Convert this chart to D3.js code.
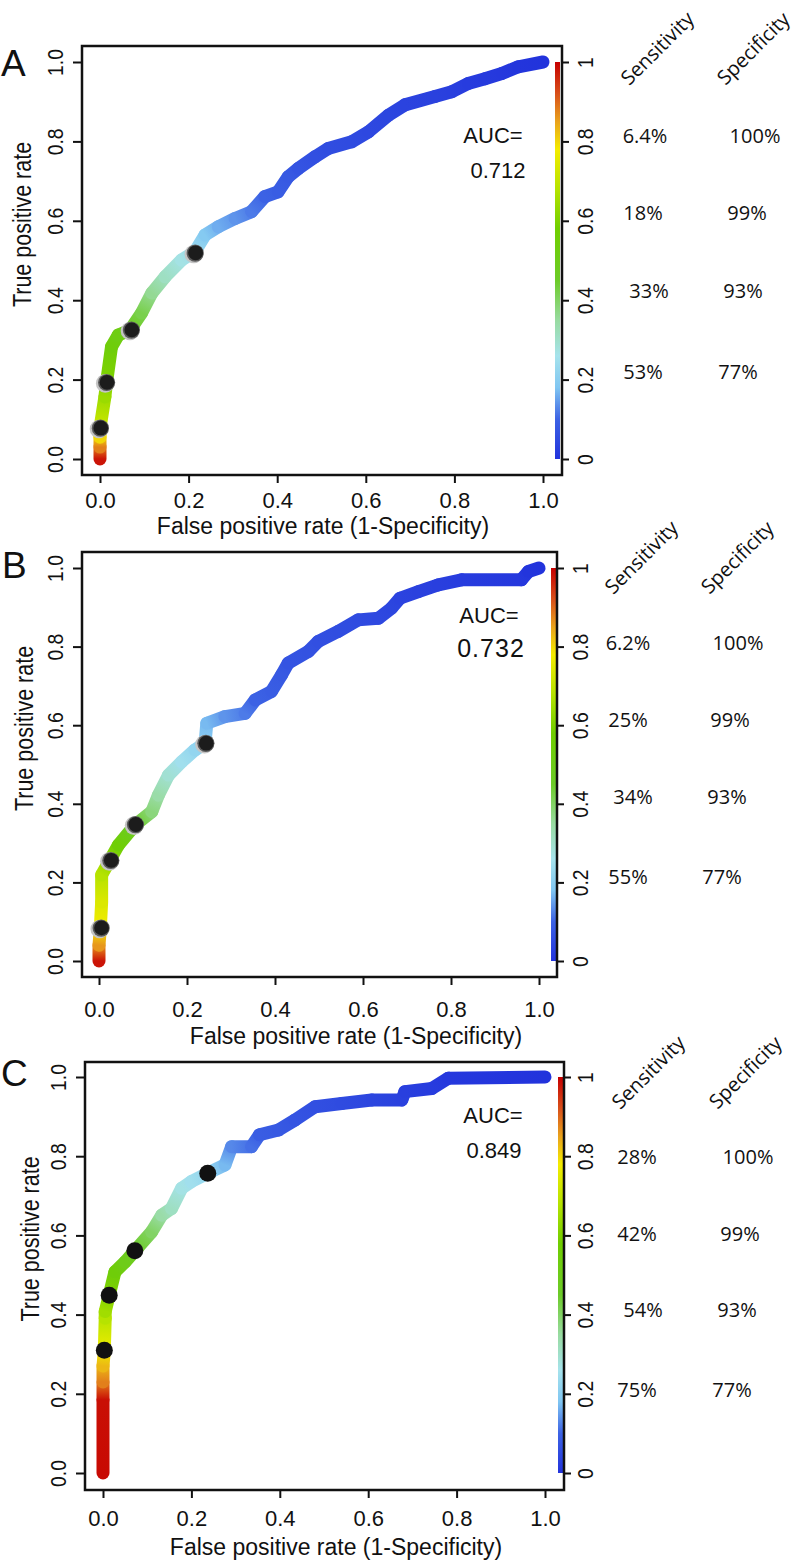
<!DOCTYPE html>
<html><head><meta charset="utf-8">
<script src="https://cdn.jsdelivr.net/npm/d3@7"></script>
<style>body{margin:0;background:#fff}</style>
</head><body><svg id="chart" width="796" height="1562"></svg>
<script>
// ---------------- DATA ----------------
const panelLetters = ["A", "B", "C"];
const axisTicks = [0, 0.2, 0.4, 0.6, 0.8, 1.0];
const cbarTicks = [0, 0.2, 0.4, 0.6, 0.8, 1];
const cbarTickLabels = ["0", "0.2", "0.4", "0.6", "0.8", "1"];
const rowCutoffs = [0.8, 0.6, 0.4, 0.2];
const headerLabels = ["Sensitivity", "Specificity"];
const xTitle = "False positive rate (1-Specificity)";
const yTitle = "True positive rate";

// Panel A
const fprA = [0, 0, 0, 0, 0.011, 0.015, 0.026, 0.041, 0.068, 0.094, 0.117, 0.147, 0.184, 0.214, 0.237, 0.267, 0.305, 0.342, 0.372, 0.402, 0.425, 0.448, 0.485, 0.515, 0.568, 0.606, 0.651, 0.688, 0.756, 0.794, 0.831, 0.869, 0.907, 0.944, 1.0];
const tprA = [0, 0.03, 0.055, 0.078, 0.156, 0.195, 0.283, 0.312, 0.325, 0.368, 0.418, 0.459, 0.501, 0.522, 0.564, 0.585, 0.606, 0.623, 0.661, 0.673, 0.711, 0.732, 0.761, 0.782, 0.799, 0.824, 0.866, 0.892, 0.913, 0.925, 0.946, 0.958, 0.971, 0.988, 1.0];
const cutA = [0.98, 0.88, 0.8, 0.72, 0.64, 0.6, 0.55, 0.52, 0.48, 0.42, 0.36, 0.31, 0.27, 0.23, 0.19, 0.16, 0.14, 0.12, 0.1, 0.09, 0.08, 0.07, 0.06, 0.055, 0.05, 0.045, 0.04, 0.035, 0.03, 0.025, 0.02, 0.015, 0.01, 0.005, 0.0];
const markFprA = [0, 0.014, 0.07, 0.214];
const markTprA = [0.077, 0.192, 0.324, 0.518];
const sensA = ["6.4%", "18%", "33%", "53%"];
const specA = ["100%", "99%", "93%", "77%"];
const aucA = "0.712";

// Panel B
const fprB = [0, 0, 0.003, 0.006, 0.006, 0.025, 0.044, 0.082, 0.12, 0.135, 0.158, 0.188, 0.218, 0.241, 0.245, 0.286, 0.332, 0.355, 0.392, 0.415, 0.43, 0.476, 0.498, 0.544, 0.589, 0.635, 0.665, 0.684, 0.726, 0.771, 0.824, 0.96, 0.976, 1.0];
const tprB = [0, 0.04, 0.083, 0.15, 0.219, 0.257, 0.295, 0.346, 0.38, 0.422, 0.473, 0.507, 0.537, 0.554, 0.605, 0.622, 0.63, 0.664, 0.686, 0.728, 0.758, 0.788, 0.813, 0.839, 0.868, 0.872, 0.898, 0.923, 0.94, 0.957, 0.97, 0.97, 0.991, 1.0];
const cutB = [0.98, 0.86, 0.78, 0.74, 0.68, 0.62, 0.56, 0.45, 0.38, 0.34, 0.29, 0.25, 0.22, 0.2, 0.17, 0.14, 0.12, 0.1, 0.09, 0.08, 0.07, 0.065, 0.06, 0.055, 0.05, 0.045, 0.04, 0.035, 0.03, 0.025, 0.02, 0.01, 0.005, 0.0];
const markFprB = [0.004, 0.026, 0.082, 0.242];
const markTprB = [0.083, 0.255, 0.346, 0.553];
const sensB = ["6.2%", "25%", "34%", "55%"];
const specB = ["100%", "99%", "93%", "77%"];
const aucB = "0.732";

// Panel C
const fprC = [0, 0, 0, 0, 0.003, 0.005, 0.005, 0.014, 0.027, 0.05, 0.072, 0.11, 0.133, 0.155, 0.178, 0.2, 0.237, 0.276, 0.291, 0.336, 0.354, 0.397, 0.434, 0.48, 0.54, 0.608, 0.676, 0.683, 0.744, 0.781, 1.0];
const tprC = [0, 0.185, 0.23, 0.27, 0.31, 0.391, 0.408, 0.449, 0.508, 0.533, 0.561, 0.609, 0.651, 0.668, 0.719, 0.736, 0.757, 0.778, 0.824, 0.824, 0.854, 0.866, 0.891, 0.925, 0.933, 0.942, 0.942, 0.963, 0.971, 0.997, 1.0];
const cutC = [0.99, 0.985, 0.88, 0.83, 0.77, 0.68, 0.65, 0.6, 0.55, 0.5, 0.46, 0.4, 0.34, 0.31, 0.27, 0.25, 0.22, 0.17, 0.13, 0.11, 0.09, 0.08, 0.07, 0.06, 0.05, 0.04, 0.03, 0.025, 0.02, 0.01, 0.0];
const markFprC = [0.003, 0.014, 0.072, 0.237];
const markTprC = [0.31, 0.449, 0.561, 0.757];
const sensC = ["28%", "42%", "54%", "75%"];
const specC = ["100%", "99%", "93%", "77%"];
const aucC = "0.849";

// colour palette (cutoff -> colour)
const paletteStops = [0, 0.1, 0.18, 0.26, 0.35, 0.45, 0.58, 0.68, 0.78, 0.85, 0.92, 1.0];
const paletteColors = ["#2233dc", "#3c62e4", "#80c6f2", "#a6e3ec", "#98dba0", "#6ccb28", "#70ce00", "#b6e300", "#f4ec00", "#e9a21c", "#d8501a", "#c60000"];

// ---------------- LAYOUT ----------------
const panels = [
  { letter: panelLetters[0], fpr: fprA, tpr: tprA, cut: cutA, mf: markFprA, mt: markTprA, sens: sensA, spec: specA, auc: aucA,
    box: {l: 82, t: 46, r: 562, b: 475}, xr: [100, 543], yr: [459, 62], cbarX: 555,
    letterPos: [1, 76], xTitle: [323, 534], yTitleX: 22, halo: true,
    aucPos: [493, 135], aucNumPos: [498, 170], aucNumSize: 22, aucNumSpacing: 0,
    sensX: [645, 643, 649, 643], specX: [755, 747, 743, 738], rowOff: [-6, -8, -10, -8],
    hdr: [[657, 48], [753, 48]], tickLabY: 500, cbarLabDx: 23, yLabDx: 27 },
  { letter: panelLetters[1], fpr: fprB, tpr: tprB, cut: cutB, mf: markFprB, mt: markTprB, sens: sensB, spec: specB, auc: aucB,
    box: {l: 82, t: 552, r: 557, b: 977}, xr: [99, 539], yr: [961, 568], cbarX: 551,
    letterPos: [2, 578], xTitle: [356, 1044], yTitleX: 24, halo: true,
    aucPos: [489, 615], aucNumPos: [491, 648], aucNumSize: 25, aucNumSpacing: 1,
    sensX: [628, 628, 633, 628], specX: [738, 730, 727, 722], rowOff: [-4, -6, -7, -6],
    hdr: [[641, 557], [737, 557]], tickLabY: 1009, cbarLabDx: 23, yLabDx: 27 },
  { letter: panelLetters[2], fpr: fprC, tpr: tprC, cut: cutC, mf: markFprC, mt: markTprC, sens: sensC, spec: specC, auc: aucC,
    box: {l: 85, t: 1062, r: 564, b: 1490}, xr: [103, 545], yr: [1473, 1077], cbarX: 558,
    letterPos: [1, 1086], xTitle: [336, 1555], yTitleX: 30, halo: false,
    aucPos: [493, 1115], aucNumPos: [494, 1150], aucNumSize: 22, aucNumSpacing: 0,
    sensX: [637, 637, 643, 637], specX: [748, 740, 737, 732], rowOff: [0, -2, -5, -4],
    hdr: [[648, 1072], [745, 1072]], tickLabY: 1518, cbarLabDx: 21, yLabDx: 27 }
];

const svg = d3.select("#chart");
svg.append("rect").attr("width", 796).attr("height", 1562).attr("fill", "#fff");
const defs = svg.append("defs");
const colorOf = d3.scaleLinear().domain(paletteStops).range(paletteColors).interpolate(d3.interpolateRgb);

// colour bar gradient (bottom = 0, top = 1)
const cg = defs.append("linearGradient").attr("id", "cbarGrad").attr("x1", 0).attr("y1", 1).attr("x2", 0).attr("y2", 0);
paletteStops.forEach((s, i) => cg.append("stop").attr("offset", s).attr("stop-color", paletteColors[i]));

const AX = "Liberation Sans, Arial, Helvetica, sans-serif";
const TX = "Open Sans, Noto Sans, sans-serif";
const INK = "#111";

panels.forEach((p, pi) => {
  const g = svg.append("g");
  const x = d3.scaleLinear().domain([0, 1]).range(p.xr);
  const y = d3.scaleLinear().domain([0, 1]).range(p.yr);

  // colour bar
  g.append("rect").attr("x", p.cbarX).attr("y", y(1)).attr("width", 5).attr("height", y(0) - y(1)).attr("fill", "url(#cbarGrad)");

  // curve segments with gradient colouring
  const curve = g.append("g");
  for (let i = 0; i < p.fpr.length - 1; i++) {
    const x1 = x(p.fpr[i]), y1 = y(p.tpr[i]), x2 = x(p.fpr[i + 1]), y2 = y(p.tpr[i + 1]);
    const id = `seg${pi}_${i}`;
    const lg = defs.append("linearGradient").attr("id", id).attr("gradientUnits", "userSpaceOnUse")
      .attr("x1", x1).attr("y1", y1).attr("x2", x2).attr("y2", y2 + (x1 === x2 && y1 === y2 ? 0.01 : 0));
    lg.append("stop").attr("offset", 0).attr("stop-color", colorOf(p.cut[i]));
    lg.append("stop").attr("offset", 1).attr("stop-color", colorOf(p.cut[i + 1]));
    curve.append("line").attr("x1", x1).attr("y1", y1).attr("x2", x2).attr("y2", y2)
      .attr("stroke", `url(#${id})`).attr("stroke-width", 13).attr("stroke-linecap", "round");
  }

  // markers
  p.mf.forEach((f, k) => {
    const cx = x(f), cy = y(p.mt[k]);
    if (p.halo) {
      g.append("circle").attr("cx", cx - 1).attr("cy", cy + 0.6).attr("r", 9.3).attr("fill", "#c4c4c4");
      g.append("circle").attr("cx", cx + 0.4).attr("cy", cy - 0.3).attr("r", 8.6).attr("fill", "#5a5a5a");
      g.append("circle").attr("cx", cx + 0.8).attr("cy", cy - 0.5).attr("r", 7.4).attr("fill", "#1c1c1c");
    } else {
      g.append("circle").attr("cx", cx).attr("cy", cy).attr("r", 8.5).attr("fill", "#111");
    }
  });

  // box
  g.append("rect").attr("x", p.box.l).attr("y", p.box.t).attr("width", p.box.r - p.box.l).attr("height", p.box.b - p.box.t)
    .attr("fill", "none").attr("stroke", INK).attr("stroke-width", 2.5);

  // x axis
  const xa = g.append("g").attr("transform", `translate(0,${p.box.b})`)
    .call(d3.axisBottom(x).tickValues(axisTicks).tickFormat(d3.format(".1f")).tickSize(8).tickSizeOuter(0));
  xa.select(".domain").remove();
  xa.selectAll("line").attr("stroke", INK).attr("stroke-width", 2);
  xa.selectAll("text").attr("y", null).attr("dy", null).attr("transform", `translate(0,${p.tickLabY - p.box.b})`)
    .attr("dominant-baseline", "central").style("font-family", AX).style("font-size", "22px").attr("fill", INK);

  // y axis
  const ya = g.append("g").attr("transform", `translate(${p.box.l},0)`)
    .call(d3.axisLeft(y).tickValues(axisTicks).tickFormat(d3.format(".1f")).tickSize(9).tickSizeOuter(0));
  ya.select(".domain").remove();
  ya.selectAll("line").attr("stroke", INK).attr("stroke-width", 2);
  ya.selectAll("text").attr("x", null).attr("dy", null).attr("text-anchor", "middle").attr("dominant-baseline", "central")
    .attr("transform", `translate(${-p.yLabDx},0) rotate(-90) scale(0.88,1)`)
    .style("font-family", AX).style("font-size", "22px").attr("fill", INK);

  // colour bar axis
  const ca = g.append("g").attr("transform", `translate(${p.box.r},0)`)
    .call(d3.axisRight(y).tickValues(cbarTicks).tickFormat((d, i) => cbarTickLabels[i]).tickSize(7).tickSizeOuter(0));
  ca.select(".domain").remove();
  ca.selectAll("line").attr("stroke", INK).attr("stroke-width", 2);
  ca.selectAll("text").attr("x", null).attr("dy", null).attr("text-anchor", "middle").attr("dominant-baseline", "central")
    .attr("transform", `translate(${p.cbarLabDx},0) rotate(-90) scale(0.88,1)`)
    .style("font-family", AX).style("font-size", "22px").attr("fill", INK);

  // titles
  g.append("text").attr("x", p.xTitle[0]).attr("y", p.xTitle[1]).attr("text-anchor", "middle")
    .style("font-family", AX).style("font-size", "23px").attr("fill", INK).text(xTitle);
  g.append("text").attr("text-anchor", "middle").attr("dominant-baseline", "central")
    .attr("transform", `translate(${p.yTitleX},${y(0.5) - 36}) rotate(-90) scale(0.86,1)`)
    .style("font-family", AX).style("font-size", "25px").attr("fill", INK).text(yTitle);

  // panel letter
  g.append("text").attr("x", p.letterPos[0]).attr("y", p.letterPos[1])
    .style("font-family", AX).style("font-size", "37px").attr("fill", INK).text(p.letter);

  // AUC
  g.append("text").attr("x", p.aucPos[0]).attr("y", p.aucPos[1]).attr("text-anchor", "middle").attr("dominant-baseline", "central")
    .style("font-family", AX).style("font-size", "22px").attr("fill", INK).text("AUC=");
  g.append("text").attr("x", p.aucNumPos[0]).attr("y", p.aucNumPos[1]).attr("text-anchor", "middle").attr("dominant-baseline", "central")
    .style("font-family", AX).style("font-size", p.aucNumSize + "px").style("letter-spacing", p.aucNumSpacing + "px")
    .attr("fill", INK).text(p.auc);

  // sensitivity / specificity table
  headerLabels.forEach((h, k) => {
    g.append("text").attr("text-anchor", "middle").attr("dominant-baseline", "central")
      .attr("transform", `translate(${p.hdr[k][0]},${p.hdr[k][1]}) rotate(-45)`)
      .style("font-family", TX).style("font-size", "20px").attr("fill", INK).text(h);
  });
  rowCutoffs.forEach((c, k) => {
    const yy = y(c) + p.rowOff[k];
    g.append("text").attr("x", p.sensX[k]).attr("y", yy).attr("text-anchor", "middle").attr("dominant-baseline", "central")
      .style("font-family", TX).style("font-size", "20px").attr("fill", INK).text(p.sens[k]);
    g.append("text").attr("x", p.specX[k]).attr("y", yy).attr("text-anchor", "middle").attr("dominant-baseline", "central")
      .style("font-family", TX).style("font-size", "20px").attr("fill", INK).text(p.spec[k]);
  });
});
</script></body></html>
